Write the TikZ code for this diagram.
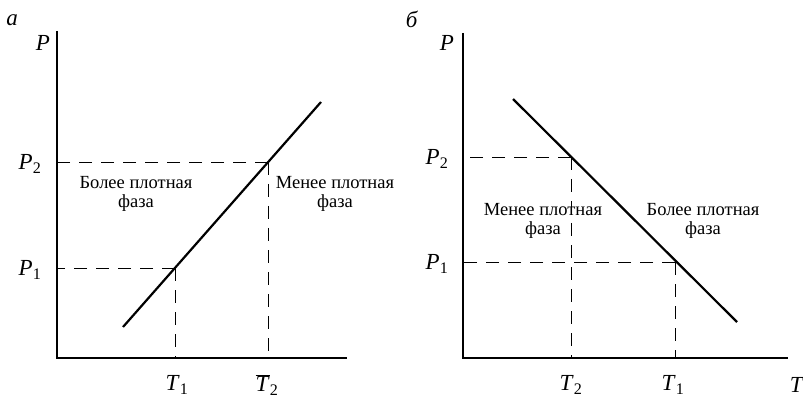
\documentclass[tikz,border=0pt]{standalone}
\usepackage{fontspec}
\setmainfont{Liberation Serif}
\usetikzlibrary{calc}

% axis letter with an upright index
\newcommand{\qlab}[2]{\textit{#1}\textsubscript{\upshape #2}}

\begin{document}
\begin{tikzpicture}[x=1pt, y=-1pt,
    axis/.style={line width=1.3pt},
    curve/.style={line width=2.2pt},
    guide/.style={line width=0.7pt, dash pattern=on 13pt off 9pt},
    tick/.style={font=\fontsize{23}{25}\selectfont},
    phase/.style={font=\fontsize{18.5}{19}\selectfont, align=center}]

	\useasboundingbox (0,0) rectangle (803,398);

	% ---------- panel a ----------
	\node[tick] (aName) at (12,20) {\textit{а}};
	\coordinate (aO) at (57,358);
	\coordinate (aTop) at (57,31);
	\coordinate (aEnd) at (347,358);
	\draw[axis] (aTop) -- (aO) -- (aEnd);
	\node[tick] (aP) at (43,43) {\textit{P}};

	% line of equilibrium
	\coordinate (aLow) at (123,327);
	\coordinate (aHigh) at (321,102);
	\draw[curve] (aLow) -- (aHigh);

	% dashed guides
	\coordinate (aC1) at (175,268);
	\coordinate (aC2) at (268,162);
	\draw[guide] (aC1) -- (aC1 -| aO);
	\draw[guide] (aC1) -- (aC1 |- aO);
	\draw[guide] (aC2) -- (aC2 -| aO);
	\draw[guide] (aC2) -- (aC2 |- aO);

	% labels
	\node[tick] (aP1) at (30,270) {\qlab{P}{1}};
	\node[tick] (aP2) at (30,164) {\qlab{P}{2}};
	\node[tick] (aT1) at (177,385) {\qlab{T}{1}};
	\node[tick] (aT2) at (267,385) {$\overline{\mbox{\textit{T}}}$\textsubscript{\upshape 2}};
	\node[phase] (aDense) at (136,194) {Более плотная\\фаза};
	\node[phase] (aLoose) at (335,194) {Менее плотная\\фаза};

	% ---------- panel b ----------
	\node[tick] (bName) at (412,19) {\textit{б}};
	\coordinate (bO) at (463,358);
	\coordinate (bTop) at (463,33);
	\coordinate (bEnd) at (788,358);
	\draw[axis] (bTop) -- (bO) -- (bEnd);
	\node[tick] (bP) at (447,43) {\textit{P}};
	\node[tick] (bT) at (797,385) {\textit{T}};

	% line of equilibrium
	\coordinate (bHigh) at (513,99);
	\coordinate (bLow) at (737,322);
	\draw[curve] (bHigh) -- (bLow);

	% dashed guides
	\coordinate (bC2) at (571,157);
	\coordinate (bC1) at (675,262);
	\draw[guide] (bC2) -- (bC2 -| bO);
	\draw[guide] (bC2) -- (bC2 |- bO);
	\draw[guide] (bC1) -- (bC1 -| bO);
	\draw[guide] (bC1) -- (bC1 |- bO);

	% labels
	\node[tick] (bP1) at (437,264) {\qlab{P}{1}};
	\node[tick] (bP2) at (437,159) {\qlab{P}{2}};
	\node[tick] (bT2) at (571,385) {\qlab{T}{2}};
	\node[tick] (bT1) at (673,385) {\qlab{T}{1}};
	\node[phase] (bLoose) at (543,221) {Менее плотная\\фаза};
	\node[phase] (bDense) at (703,221) {Более плотная\\фаза};

\end{tikzpicture}
\end{document}
